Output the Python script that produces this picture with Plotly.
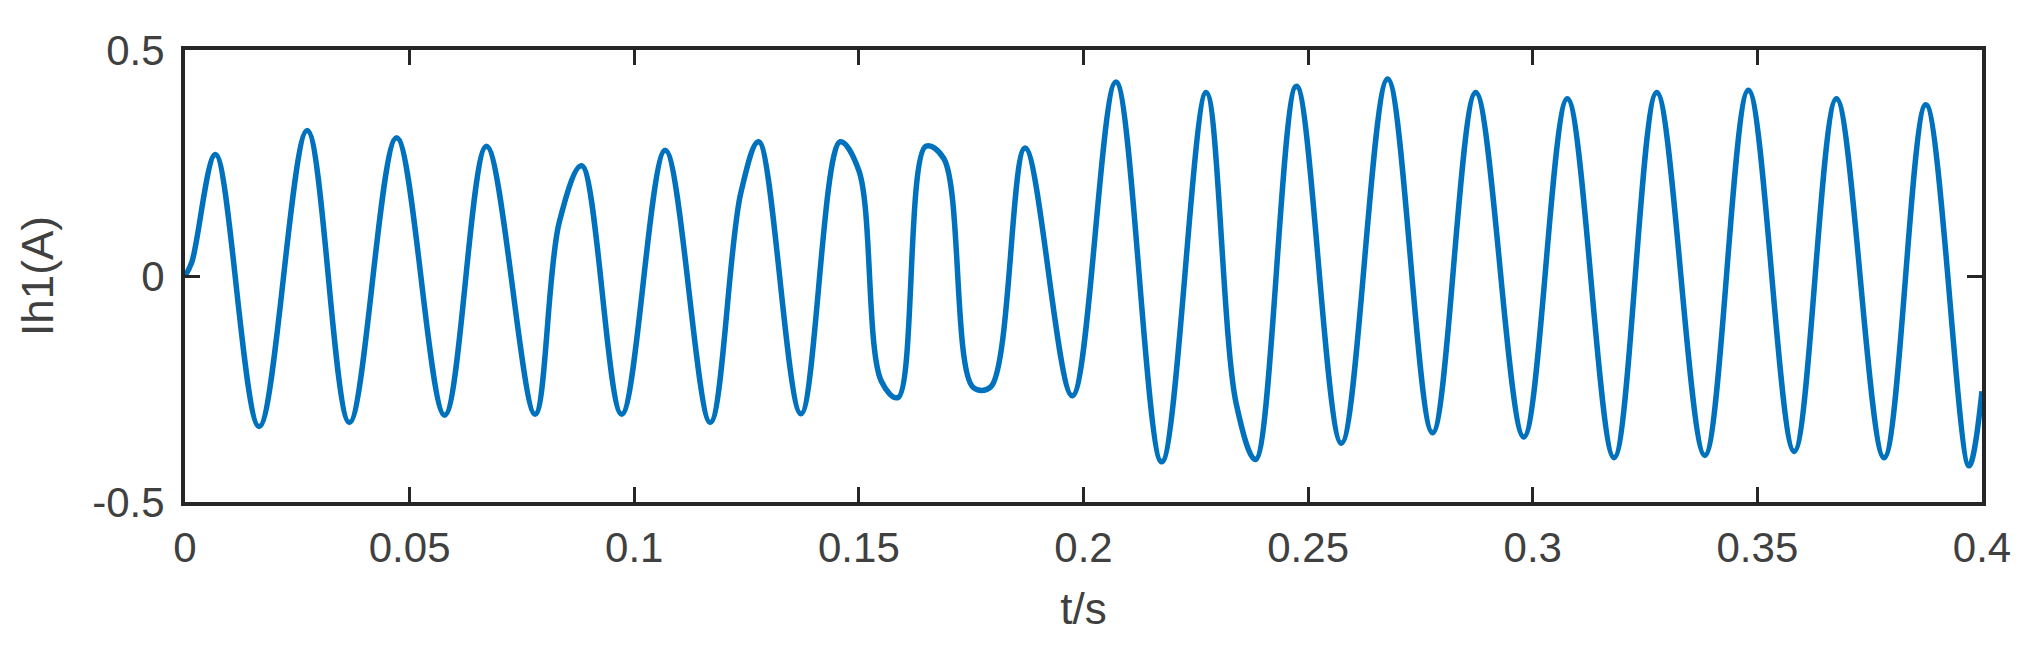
import plotly.graph_objects as go

# Extrema / shoulder points
t = [0, 0.0015, 0.0068, 0.0165, 0.0272, 0.0366, 0.0471, 0.0578, 0.0671, 0.0779,
     0.0833, 0.0883, 0.0972, 0.1069, 0.1169, 0.1237, 0.1277, 0.1371, 0.1458, 0.1500,
     0.1550, 0.1587, 0.1649, 0.1689, 0.1754, 0.1793, 0.1870, 0.1975, 0.2072, 0.2174,
     0.2273, 0.2340, 0.2383, 0.2474, 0.2574, 0.2677, 0.2777, 0.2873, 0.2980, 0.3077,
     0.3181, 0.3276, 0.3383, 0.3480, 0.3582, 0.3676, 0.3782, 0.3875, 0.3971, 0.4000]
ih1 = [0, 0.03, 0.269, -0.333, 0.322, -0.324, 0.306, -0.308, 0.287, -0.306,
       0.119, 0.244, -0.306, 0.278, -0.324, 0.183, 0.297, -0.305, 0.297, 0.233,
       -0.233, -0.269, 0.287, 0.26, -0.246, -0.246, 0.283, -0.265, 0.429, -0.411,
       0.406, -0.283, -0.406, 0.42, -0.37, 0.436, -0.347, 0.406, -0.356, 0.392,
       -0.402, 0.406, -0.397, 0.411, -0.388, 0.392, -0.402, 0.379, -0.42, -0.255]

x_ticks = [0, 0.05, 0.1, 0.15, 0.2, 0.25, 0.3, 0.35, 0.4]
x_labels = ["0", "0.05", "0.1", "0.15", "0.2", "0.25", "0.3", "0.35", "0.4"]
y_ticks = [-0.5, 0, 0.5]
y_labels = ["-0.5", "0", "0.5"]

font_fam = "Liberation Sans, Arial, sans-serif"
txt_col = "#404040"
ax_col = "#262626"

fig = go.Figure()
fig.add_trace(go.Scatter(x=t, y=ih1, mode="lines",
                         line=dict(color="#0072BD", width=5.5, shape="spline", smoothing=1.0),
                         showlegend=False, hoverinfo="skip"))

fig.update_layout(
    width=2021, height=646,
    margin=dict(l=177, r=47, t=42, b=152),
    paper_bgcolor="white", plot_bgcolor="white",
    font=dict(family=font_fam, size=42, color=txt_col),
)
fig.update_xaxes(range=[0, 0.4], tickvals=x_ticks, ticktext=x_labels,
                 showline=True, linecolor=ax_col, linewidth=4, mirror="ticks",
                 ticks="inside", ticklen=15, tickwidth=3, tickcolor=ax_col,
                 showgrid=False, zeroline=False, ticklabelstandoff=6,
                 tickfont=dict(size=42, color=txt_col),
                 title=dict(text="t/s", font=dict(size=44, color=txt_col), standoff=24))
fig.update_yaxes(range=[-0.5, 0.5], tickvals=y_ticks, ticktext=y_labels,
                 showline=True, linecolor=ax_col, linewidth=4, mirror="ticks",
                 ticks="inside", ticklen=15, tickwidth=3, tickcolor=ax_col,
                 showgrid=False, zeroline=False, ticklabelstandoff=8,
                 tickfont=dict(size=42, color=txt_col),
                 title=dict(text="Ih1(A)", font=dict(size=44, color=txt_col), standoff=26))

fig.write_html("out.html")
